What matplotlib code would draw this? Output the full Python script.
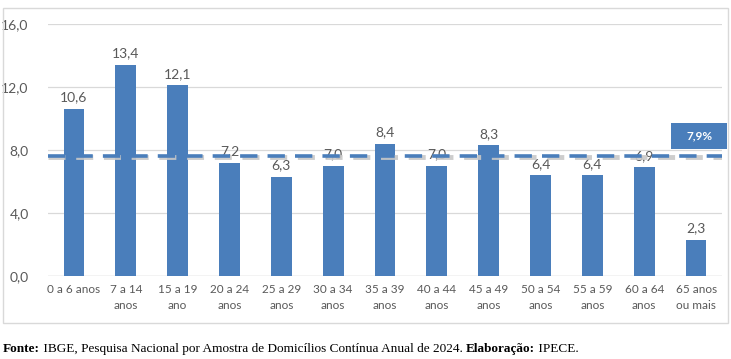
import matplotlib
matplotlib.use("Agg")
import matplotlib.pyplot as plt
from matplotlib.patches import Rectangle
from matplotlib.offsetbox import TextArea, HPacker, AnchoredOffsetbox

categories = ["0 a 6 anos", "7 a 14\nanos", "15 a 19\nano", "20 a 24\nanos", "25 a 29\nanos",
              "30 a 34\nanos", "35 a 39\nanos", "40 a 44\nanos", "45 a 49\nanos", "50 a 54\nanos",
              "55 a 59\nanos", "60 a 64\nanos", "65 anos\nou mais"]
values = [10.6, 13.4, 12.1, 7.2, 6.3, 7.0, 8.4, 7.0, 8.3, 6.4, 6.4, 6.9, 2.3]
avg_label = "7,9%"
avg_line = 7.65
yticks = [0, 4, 8, 12, 16]

blue = "#4a7ebb"
gray_txt = "#595959"

fig = plt.figure(figsize=(7.31, 3.59), dpi=100)
ax = fig.add_axes([48/731, 1-276/359, (722-48)/731, (276-24)/359])

x = list(range(len(categories)))
ax.bar(x, values, width=0.40, color=blue, zorder=2)
ax.set_xlim(-0.5, len(categories)-0.5)
ax.set_ylim(0, 16)
ax.set_yticks(yticks)
ax.set_yticklabels([f"{v:.1f}".replace(".", ",") for v in yticks], fontsize=10, color=gray_txt, family="Lato")
ax.set_xticks(x)
ax.set_xticklabels(categories, fontsize=8.5, color=gray_txt, family="Lato", linespacing=1.5)
ax.tick_params(length=0, pad=6)
ax.tick_params(axis="y", pad=14)
for s in ax.spines.values():
    s.set_visible(False)
ax.grid(axis="y", color="#d9d9d9", lw=0.9, zorder=0)
ax.axhline(0, color="#d9d9d9", lw=1, zorder=1)

for xi, v in zip(x, values):
    ax.text(xi, v + 0.35, f"{v:.1f}".replace(".", ","), ha="center", va="bottom",
            fontsize=10, color=gray_txt, family="Lato", zorder=3)

# average line with grey shadow
ax.plot([-0.5, len(categories)-0.5], [avg_line-0.12, avg_line-0.12], color="#c8c8c8", lw=3.5,
        dashes=(3.5, 2.2), zorder=3, alpha=0.9)
ax.plot([-0.5, len(categories)-0.5], [avg_line, avg_line], color=blue, lw=2.6,
        dashes=(4.8, 2.8), zorder=4)

ax.add_patch(Rectangle((11.52, 8.06), 1.08, 1.65, fc=blue, ec="none", zorder=5, clip_on=False))
ax.text(12.06, 8.89, avg_label, ha="center", va="center", fontsize=8.5, fontweight="bold",
        color="white", family="Lato", zorder=6)

fig.patches.append(Rectangle((3/731, 1-323/359), 725/731, 315/359, transform=fig.transFigure,
                             fill=False, ec="#d9d9d9", lw=1))

parts = [("Fonte:", "bold"), (" IBGE, Pesquisa Nacional por Amostra de Domicílios Contínua Anual de 2024. ", "normal"),
         ("Elaboração:", "bold"), (" IPECE.", "normal")]
boxes = [TextArea(s, textprops=dict(fontsize=9.55, family="Liberation Serif", fontweight=w, color="black"))
         for s, w in parts]
pack = HPacker(children=boxes, align="baseline", pad=0, sep=0)
ab = AnchoredOffsetbox(loc="lower left", child=pack, pad=0, frameon=False,
                       bbox_to_anchor=(3/731, 1-355/359), bbox_transform=fig.transFigure, borderpad=0)
fig.add_artist(ab)

fig.savefig("out.png", dpi=100, facecolor="white")
